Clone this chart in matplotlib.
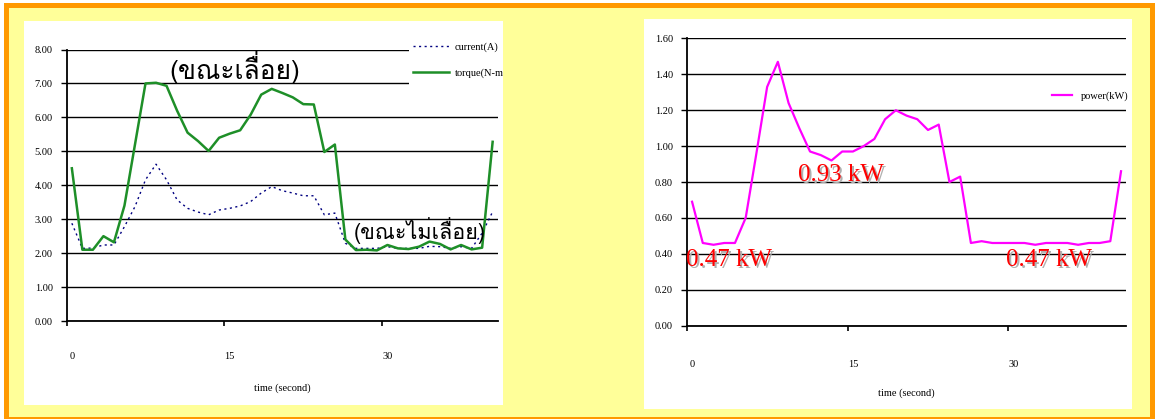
import numpy as np
import matplotlib
matplotlib.use('Agg')
import matplotlib.pyplot as plt
from matplotlib.patches import Rectangle
from matplotlib import font_manager, ft2font

# data (41 samples, one per second)
seconds = np.arange(41)
current = [2.88, 2.14, 2.15, 2.24, 2.24, 2.78, 3.37, 4.16, 4.62, 4.16,
           3.57, 3.32, 3.21, 3.13, 3.27, 3.32, 3.39, 3.52, 3.77, 3.96,
           3.84, 3.77, 3.69, 3.69, 3.13, 3.18, 2.29, 2.14, 2.14, 2.14,
           2.19, 2.14, 2.14, 2.14, 2.20, 2.19, 2.14, 2.19, 2.14, 2.59, 3.22]
torque = [4.50, 2.10, 2.10, 2.50, 2.32, 3.40, 5.20, 7.00, 7.02, 6.93,
          6.20, 5.55, 5.30, 5.01, 5.40, 5.52, 5.62, 6.08, 6.67, 6.84,
          6.72, 6.59, 6.39, 6.38, 4.98, 5.20, 2.40, 2.09, 2.10, 2.08,
          2.24, 2.14, 2.12, 2.19, 2.34, 2.27, 2.11, 2.24, 2.11, 2.16, 5.28]
power = [0.69, 0.46, 0.45, 0.46, 0.46, 0.60, 0.96, 1.33, 1.47, 1.24,
         1.10, 0.97, 0.95, 0.92, 0.97, 0.97, 1.00, 1.04, 1.15, 1.20,
         1.17, 1.15, 1.09, 1.12, 0.80, 0.83, 0.46, 0.47, 0.46, 0.46,
         0.46, 0.46, 0.45, 0.46, 0.46, 0.46, 0.45, 0.46, 0.46, 0.47, 0.86]
xtick_labels = [0, 15, 30]

W, H = 1155, 419

# look for any installed font that has Thai glyphs
thai_font = None
for f in font_manager.fontManager.ttflist:
    try:
        if 0x0E02 in ft2font.FT2Font(f.fname).get_charmap():
            thai_font = f.name
            break
    except Exception:
        pass
thai_family = [thai_font, 'Liberation Serif'] if thai_font else ['Liberation Serif']

plt.rcParams['font.family'] = ['Liberation Serif', 'DejaVu Serif']

fig = plt.figure(figsize=(W / 100, H / 100), dpi=100, facecolor='white')


def px_box(x0, y0, x1, y1):
    # box in image pixels (origin top-left) -> figure fraction
    return (x0 / W, 1 - y1 / H), (x1 - x0) / W, (y1 - y0) / H


def px_rect(x0, y0, x1, y1, color):
    xy, w, h = px_box(x0, y0, x1, y1)
    fig.add_artist(Rectangle(xy, w, h, transform=fig.transFigure, facecolor=color,
                             edgecolor='none', zorder=-10))


px_rect(4, 3, W, H, '#FF9900')
px_rect(9, 8, 1150, 417, '#FFFF99')
px_rect(24, 21, 503, 405, 'white')
px_rect(644, 19, 1132, 409, 'white')


def style_axis(ax, ymax, ystep):
    ax.set_xlim(-0.5, 40.5)
    ax.set_ylim(0, ymax)
    ax.set_facecolor('white')
    for s in ['top', 'right']:
        ax.spines[s].set_visible(False)
    for s in ['left', 'bottom']:
        ax.spines[s].set_linewidth(1.3)
        ax.spines[s].set_color('black')
    ax.set_yticks(np.arange(0, ymax + ystep / 2, ystep))
    ax.yaxis.set_major_formatter(matplotlib.ticker.FormatStrFormatter('%.2f'))
    ax.tick_params(axis='y', direction='out', length=4, width=1, pad=6,
                   labelsize=7.5, colors='black')
    ax.set_xticks(xtick_labels)
    ax.set_xticklabels([str(v) for v in xtick_labels])
    ax.set_xticks([-0.5, 14.5, 29.5], minor=True)
    ax.tick_params(axis='x', which='major', length=0, pad=22, labelsize=7.5)
    ax.tick_params(axis='x', which='minor', direction='out', length=3.5, width=1.2)
    ax.grid(axis='y', color='black', linewidth=1.0)
    ax.set_axisbelow(True)
    ax.set_xlabel('time (second)', fontsize=7.5)


# left chart: current and torque
ax1 = fig.add_axes([66.6 / W, (H - 321) / H, (497.9 - 66.6) / W, (321 - 49.5) / H])
style_axis(ax1, 8, 1)
ax1.xaxis.set_label_coords(0.5, -0.228)
ax1.plot(seconds, current, color='#000080', lw=1.0, ls=(0, (1.5, 2.5)),
         label='current(A)')
ax1.plot(seconds, torque, color='#1E8F28', lw=1.8, label='torque(N-m')
# white block behind the legend (hides the grid there, stays inside the panel)
xy, w, h = px_box(409, 36, 503, 88)
ax1.add_patch(Rectangle(xy, w, h, transform=fig.transFigure, facecolor='white',
                        edgecolor='none', clip_on=False, zorder=4))
ax1.legend(loc='center left', bbox_to_anchor=(409 / W, 1 - 60 / H),
           bbox_transform=fig.transFigure, frameon=False,
           fontsize=7.5, handlelength=3.4, handletextpad=0.6,
           labelspacing=1.55, borderpad=0.4, borderaxespad=0)
ax1.text(15.5, 7.46, '(ขณะเลื่อย)', family=thai_family, fontsize=19,
         ha='center', va='center')
ax1.text(33.1, 2.68, '(ขณะไม่เลื่อย)', family=thai_family, fontsize=15.5,
         ha='center', va='center')

# right chart: power
ax2 = fig.add_axes([686.7 / W, (H - 325.5) / H, (1126.4 - 686.7) / W, (325.5 - 38.5) / H])
style_axis(ax2, 1.6, 0.2)
ax2.xaxis.set_label_coords(0.5, -0.220)
ax2.tick_params(axis='x', which='major', pad=25)
ax2.plot(seconds, power, color='#FF00FF', lw=1.6, label='power(kW)')
ax2.legend(loc='center left', bbox_to_anchor=(1048 / W, 1 - 95.7 / H),
           bbox_transform=fig.transFigure, frameon=False, fontsize=7.5,
           handlelength=1.9, handletextpad=0.9, borderpad=0.4, borderaxespad=0)

# red value labels with a soft grey shadow
for x, y, txt in [(3.45, 0.365, '0.47 kW'), (13.9, 0.839, '0.93 kW'), (33.3, 0.365, '0.47 kW')]:
    ax2.text(x + 0.17, y - 0.009, txt, color='#B0B0B0', fontsize=18, ha='center', va='center')
    ax2.text(x, y, txt, color='#FF0000', fontsize=18, ha='center', va='center')

fig.savefig('out.png', dpi=100, facecolor=fig.get_facecolor())
